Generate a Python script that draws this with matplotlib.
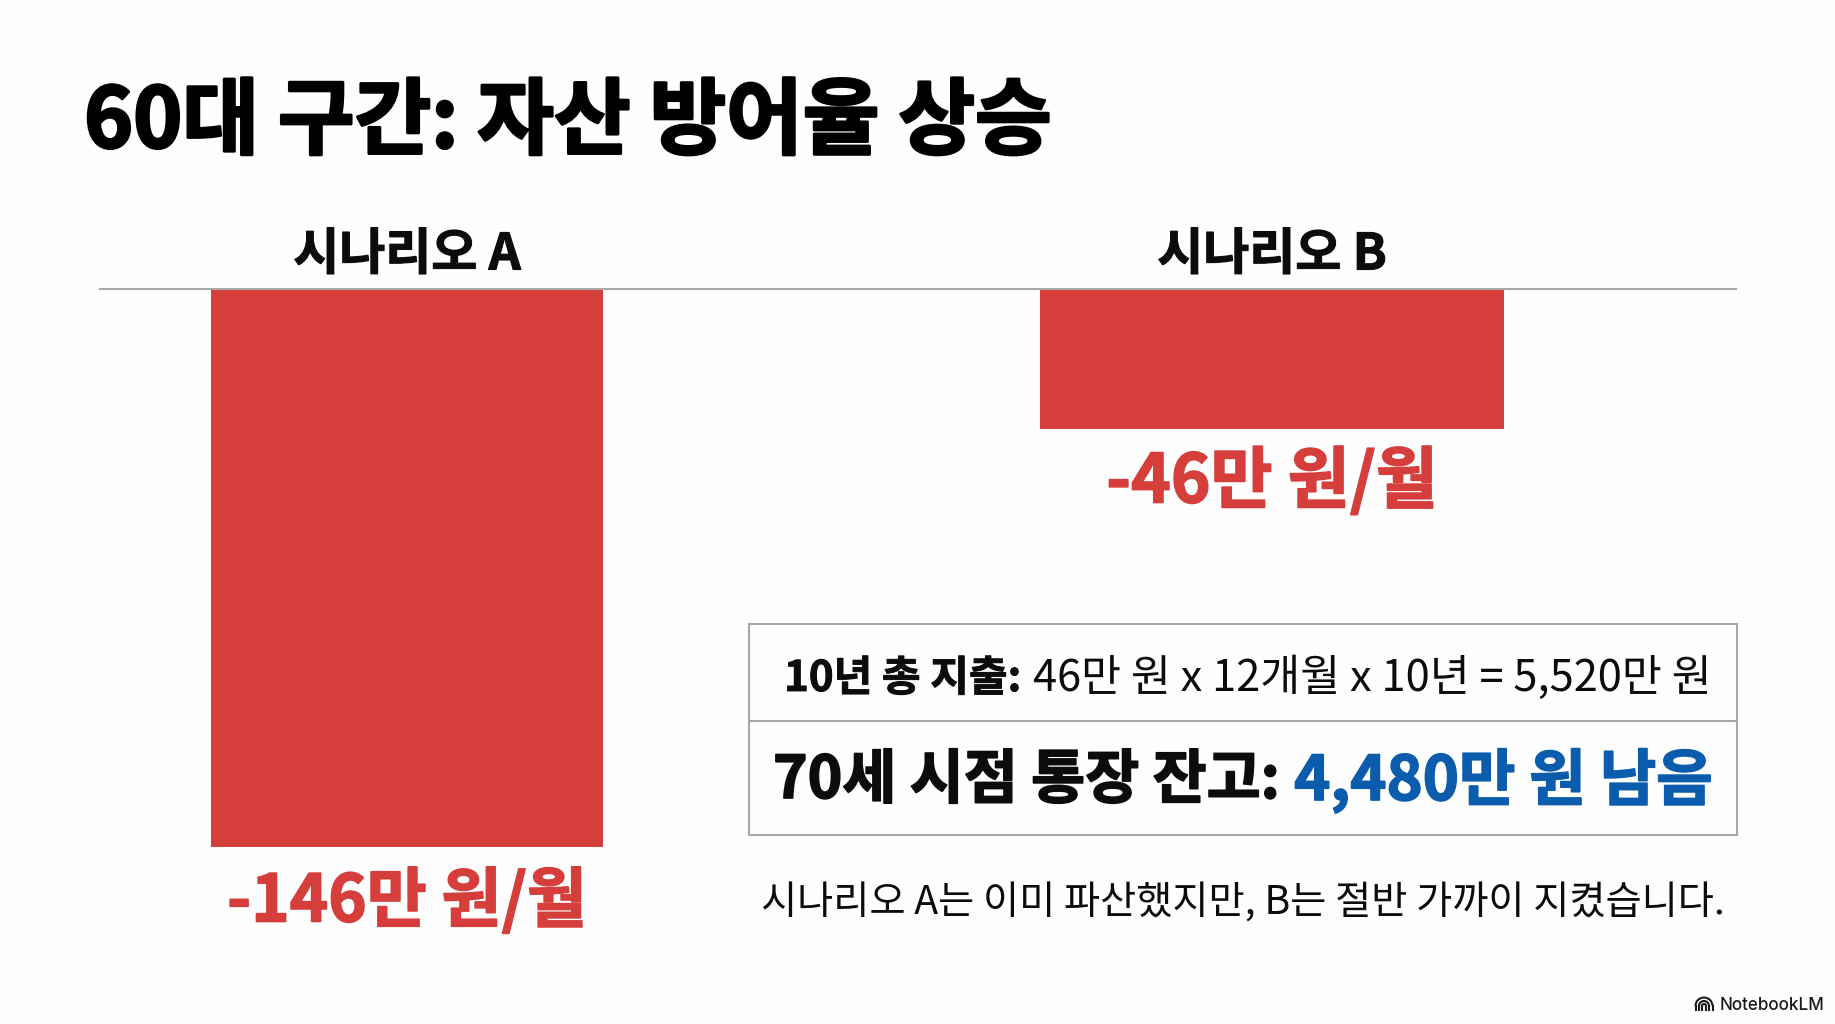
import matplotlib
matplotlib.use("Agg")
from matplotlib import pyplot as plt
from matplotlib import patheffects as pe
from matplotlib.patches import Rectangle, Arc

plt.rcParams['font.family'] = ['Noto Sans CJK KR', 'DejaVu Sans']

W, H = 1835, 1024

title = "60대 구간: 자산 방어율 상승"
scenarios = ["시나리오 A", "시나리오 B"]
# drawn bar lengths: B is shorter than its label says
bar_lengths = [-146, -36.7]
bar_labels = ["-146만 원/월", "-46만 원/월"]

row1_bold = "10년 총 지출:"
row1_rest = "46만 원 x 12개월 x 10년 = 5,520만 원"
row2_bold = "70세 시점 통장 잔고:"
row2_blue = "4,480만 원 남음"
note = "시나리오 A는 이미 파산했지만, B는 절반 가까이 지켰습니다."
credit = "NotebookLM"

RED = "#d63e3c"
BLUE = "#0b5cad"
GREY = "#a8a8a8"
INK = "#0c0c0c"


def heavy(width, color):
    # the bold face is lighter than the reference, so thicken it a little
    return [pe.withStroke(linewidth=width, foreground=color)]


fig = plt.figure(figsize=(W / 100, H / 100), dpi=100, facecolor="#fefefe")

# bars: axes spans the baseline width and the height of the long bar
ax = fig.add_axes([100 / W, 1 - 847 / H, (1736 - 100) / W, (847 - 289) / H])
ax.patch.set_alpha(0)
ax.bar([0, 1], bar_lengths, width=[0.4535, 0.5365], color=RED)
ax.set_xlim(-0.3551, 1.5365)
ax.set_ylim(-146, 0)
ax.set_xticks([])
ax.set_yticks([])
for side in ["left", "right", "bottom"]:
    ax.spines[side].set_visible(False)
ax.spines["top"].set_color(GREY)
ax.spines["top"].set_linewidth(1.5)

# overlay in pixel coordinates for text and the box
ov = fig.add_axes([0, 0, 1, 1])
ov.set_xlim(0, W)
ov.set_ylim(H, 0)
ov.axis("off")
ov.patch.set_alpha(0)

ov.text(84, 123, title, fontsize=60, fontweight="bold", color="black", va="center", ha="left",
        path_effects=heavy(2, "black"))

for cx, name in zip([407, 1272], scenarios):
    ov.text(cx, 255, name, fontsize=36, fontweight="bold", color=INK, va="center", ha="center",
            path_effects=heavy(0.8, INK))

ov.text(407, 902, bar_labels[0], fontsize=47, fontweight="bold", color=RED, va="center", ha="center",
        path_effects=heavy(1.2, RED))
ov.text(1272, 483, bar_labels[1], fontsize=48.5, fontweight="bold", color=RED, va="center", ha="center",
        path_effects=heavy(1.2, RED))

ov.add_patch(Rectangle((749, 624), 988, 211, fill=False, edgecolor=GREY, linewidth=1.5))
ov.plot([749, 1737], [721, 721], color=GREY, linewidth=1.5)

ov.text(784, 679, row1_bold, fontsize=30.3, fontweight="bold", color=INK, va="center", ha="left",
        path_effects=heavy(0.6, INK))
ov.text(1712, 679, row1_rest, fontsize=31.3, color=INK, va="center", ha="right")
ov.text(773, 781, row2_bold, fontsize=42.3, fontweight="bold", color=INK, va="center", ha="left",
        path_effects=heavy(1.2, INK))
ov.text(1713, 781, row2_blue, fontsize=44.2, fontweight="bold", color=BLUE, va="center", ha="right",
        path_effects=heavy(1.2, BLUE))
ov.text(761, 904, note, fontsize=28.3, color=INK, va="center", ha="left")

ov.text(1720, 1006, credit, fontsize=12.3, family=["Inter", "DejaVu Sans"], fontweight="medium",
        color="#1a1a1a", va="center", ha="left")
# small arch logo next to the credit
for d in [17, 10, 4]:
    ov.add_patch(Arc((1704, 1006), d, d, theta1=180, theta2=360, color="#1a1a1a", linewidth=1.5))
    ov.plot([1704 - d / 2, 1704 - d / 2], [1006, 1010], color="#1a1a1a", linewidth=1.5)
    ov.plot([1704 + d / 2, 1704 + d / 2], [1006, 1010], color="#1a1a1a", linewidth=1.5)

fig.savefig("out.png", dpi=100, facecolor=fig.get_facecolor())
